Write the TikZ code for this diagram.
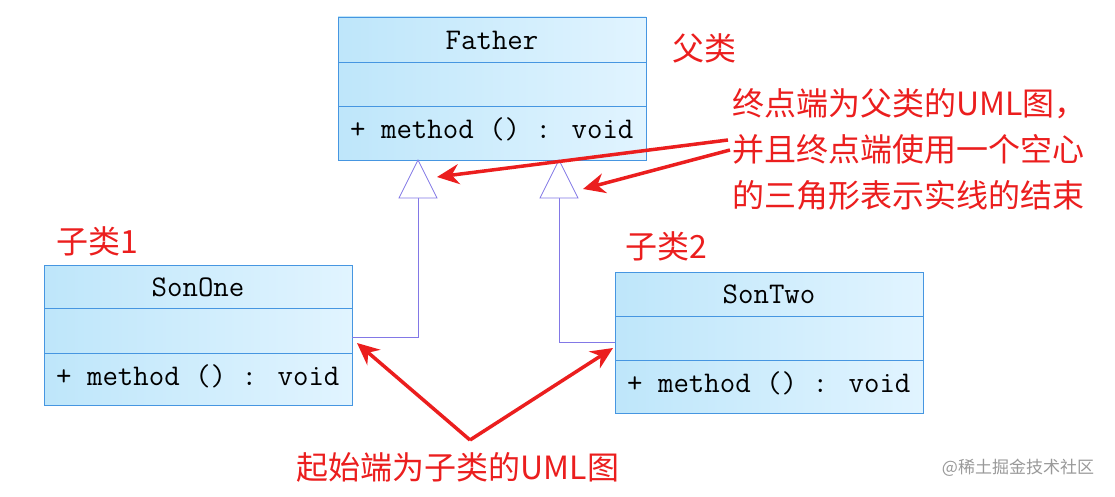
\documentclass[tikz,border=0pt]{standalone}
\usepackage{fontspec}
\newfontfamily\cjk{Noto Sans CJK SC}
\usetikzlibrary{arrows.meta}
\definecolor{bord}{RGB}{70,150,225}
\definecolor{fillA}{RGB}{190,230,250}
\definecolor{fillB}{RGB}{225,244,255}
\definecolor{redc}{RGB}{235,30,30}
\definecolor{linec}{RGB}{130,120,230}
\tikzset{
 cls/.style={draw=bord,line width=0.8pt,left color=fillA,right color=fillB},
 sep/.style={draw=bord,line width=0.8pt},
 ct/.style={font=\fontsize{30}{32}\selectfont\ttfamily,inner sep=0},
 lab/.style={font=\fontsize{32}{46}\selectfont\cjk,text=redc,inner sep=0},
 gen/.style={draw=linec,line width=0.7pt},
 tri/.style={draw=linec,line width=0.7pt,fill=white},
 rarr/.style={draw=redc,line width=3.5pt,-{Stealth[length=22pt,width=20pt]}}
}
\begin{document}
\begin{tikzpicture}[x=1pt,y=-1pt]
\useasboundingbox (0,0) rectangle (1115,497);
% Father
\path[cls] (338,17) rectangle (646,160);
\draw[sep] (338,62)--(646,62) (338,106)--(646,106);
\node[ct] (fn) at (492,40) {Father};
\node[ct,anchor=west] (fm) at (350,129) {+ method () : void};
\coordinate (fa1) at (418,160);
\coordinate (fa2) at (559,160);
% SonOne
\path[cls] (44,265) rectangle (352,405);
\draw[sep] (44,308)--(352,308) (44,353)--(352,353);
\node[ct] (s1n) at (198,287) {SonOne};
\node[ct,anchor=west] (s1m) at (56,376) {+ method () : void};
\coordinate (s1r) at (352,337);
% SonTwo
\path[cls] (615,272) rectangle (923,413);
\draw[sep] (615,316)--(923,316) (615,360)--(923,360);
\node[ct] (s2n) at (769,294) {SonTwo};
\node[ct,anchor=west] (s2m) at (627,383) {+ method () : void};
\coordinate (s2l) at (615,342);
% generalisations
\draw[gen] (s1r) -- (418,337) -- (418,198);
\draw[tri] (fa1) -- (437,198) -- (399,198) -- cycle;
\draw[gen] (s2l) -- (559,342) -- (559,198);
\draw[tri] (fa2) -- (578,198) -- (540,198) -- cycle;
% labels
\node[lab] (l0) at (704,48) {父类};
\node[lab] (l1) at (97,241) {子类1};
\node[lab] (l2) at (666,246) {子类2};
\node[lab,anchor=north west,align=left] (l3) at (732,88) {终点端为父类的UML图，\\并且终点端使用一个空心\\的三角形表示实线的结束};
\node[lab] (l4) at (458,467) {起始端为子类的UML图};
\coordinate (a0) at (728,140);
\coordinate (a1) at (730,150);
\coordinate (b0) at (470,440);
\draw[rarr] (a0) -- (437,177);
\draw[rarr] (a1) -- (583,189);
\draw[rarr] (b0) -- (357,343);
\draw[rarr] (b0) -- (613,348);
\node[font=\fontsize{17}{20}\selectfont\cjk,text=gray!80] (wm) at (1018,468) {@稀土掘金技术社区};
\end{tikzpicture}
\end{document}
